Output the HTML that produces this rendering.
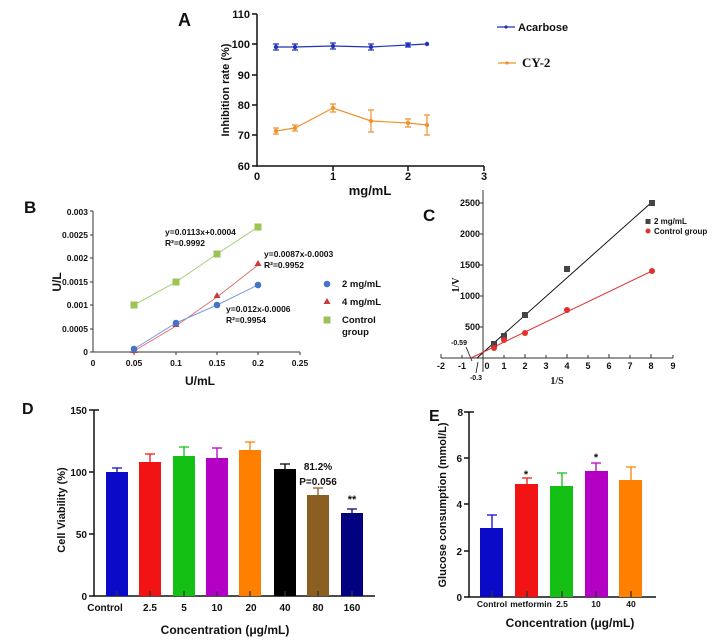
<!DOCTYPE html>
<html><head><meta charset="utf-8"><style>
html,body{margin:0;padding:0;background:#fff}
svg{display:block}
text{font-family:"Liberation Sans",Arial,sans-serif;font-weight:bold;fill:#111}
.s{font-family:"Liberation Serif",serif}
</style></head><body>
<svg width="723" height="640" viewBox="0 0 723 640" xmlns="http://www.w3.org/2000/svg">
<!-- Panel A -->
<text x="178" y="26" font-size="18">A</text>
<g stroke="#111" stroke-width="1.5" fill="none">
<path d="M257 14V166H484"/>
<path d="M252 14H257M252 44H257M252 75H257M252 105H257M252 135H257M252 166H257"/>
<path d="M333 166V171M408 166V171M484 166V171"/>
</g>
<g font-size="11" text-anchor="end">
<text x="250" y="18">110</text><text x="250" y="48">100</text><text x="250" y="79">90</text><text x="250" y="109">80</text><text x="250" y="139">70</text><text x="250" y="170">60</text>
</g>
<g font-size="11" text-anchor="middle">
<text x="257" y="180">0</text><text x="333" y="180">1</text><text x="408" y="180">2</text><text x="484" y="180">3</text>
<text x="370" y="195" font-size="13">mg/mL</text>
</g>
<text transform="translate(229,90) rotate(-90)" font-size="11" text-anchor="middle">Inhibition rate (%)</text>
<g stroke="#2233bb" stroke-width="1.2" fill="#2233bb">
<polyline fill="none" points="276,47 295,47 333,46 371,47 408,45 427,44"/>
<path d="M276 44V50M273 44H279M273 50H279M295 44V50M292 44H298M292 50H298M333 43V49M330 43H336M330 49H336M371 44V50M368 44H374M368 50H374M408 43V47M405 43H411M405 47H411" fill="none"/>
<circle cx="276" cy="47" r="1.6"/><circle cx="295" cy="47" r="1.6"/><circle cx="333" cy="46" r="1.6"/><circle cx="371" cy="47" r="1.6"/><circle cx="408" cy="45" r="1.6"/><circle cx="427" cy="44" r="1.6"/>
</g>
<g stroke="#f0922a" stroke-width="1.2" fill="#f0922a">
<polyline fill="none" points="276,131 295,128 333,108 371,121 408,123 427,125"/>
<path d="M276 128V134M273 128H279M273 134H279M295 125V131M292 125H298M292 131H298M333 104V112M330 104H336M330 112H336M371 110V132M368 110H374M368 132H374M408 119V127M405 119H411M405 127H411M427 115V135M424 115H430M424 135H430" fill="none"/>
<circle cx="276" cy="131" r="1.6"/><circle cx="295" cy="128" r="1.6"/><circle cx="333" cy="108" r="1.6"/><circle cx="371" cy="121" r="1.6"/><circle cx="408" cy="123" r="1.6"/><circle cx="427" cy="125" r="1.6"/>
</g>
<line x1="497" y1="27" x2="515" y2="27" stroke="#2233bb" stroke-width="1.2"/><circle cx="506" cy="27" r="1.6" fill="#2233bb"/>
<text x="518" y="31" font-size="11">Acarbose</text>
<line x1="498" y1="63" x2="516" y2="63" stroke="#f0922a" stroke-width="1.2"/><circle cx="507" cy="63" r="1.6" fill="#f0922a"/>
<text x="522" y="67" font-size="13" class="s">CY-2</text>

<!-- Panel B -->
<text x="24" y="213" font-size="17">B</text>
<g stroke="#333" stroke-width="1" fill="none">
<path d="M93 211V352H300"/>
<path d="M90 211H93M90 235H93M90 258H93M90 282H93M90 305H93M90 329H93M90 352H93"/>
<path d="M134 352V355M176 352V355M217 352V355M258 352V355M300 352V355"/>
</g>
<g font-size="8.5" text-anchor="end">
<text x="88" y="215">0.003</text><text x="88" y="238">0.0025</text><text x="88" y="261">0.002</text><text x="88" y="285">0.0015</text><text x="88" y="308">0.001</text><text x="88" y="332">0.0005</text><text x="88" y="355">0</text>
</g>
<g font-size="8.5" text-anchor="middle">
<text x="93" y="366">0</text><text x="134" y="366">0.05</text><text x="176" y="366">0.1</text><text x="217" y="366">0.15</text><text x="258" y="366">0.2</text><text x="300" y="366">0.25</text>
<text x="200" y="385" font-size="12">U/mL</text>
</g>
<text transform="translate(61,282) rotate(-90)" font-size="12" text-anchor="middle">U/L</text>
<polyline points="134,305 176,282 217,254 258,227" fill="none" stroke="#a8cf78" stroke-width="1"/>
<polyline points="134,351 176,326 217,297 258,265" fill="none" stroke="#e07070" stroke-width="1"/>
<polyline points="134,349 176,323 217,305 258,285" fill="none" stroke="#7a9be0" stroke-width="1"/>
<g fill="#9bc453"><rect x="130.5" y="301.5" width="7" height="7"/><rect x="172.5" y="278.5" width="7" height="7"/><rect x="213.5" y="250.5" width="7" height="7"/><rect x="254.5" y="223.5" width="7" height="7"/></g>
<g fill="#c93a3a"><path d="M134 347l3.5 6h-7z"/><path d="M176 321l3.5 6h-7z"/><path d="M217 292l3.5 6h-7z"/><path d="M258 260l3.5 6h-7z"/></g>
<g fill="#4472c4"><circle cx="134" cy="349" r="3.3"/><circle cx="176" cy="323" r="3.3"/><circle cx="217" cy="305" r="3.3"/><circle cx="258" cy="285" r="3.3"/></g>
<g font-size="8.5">
<text x="165" y="235">y=0.0113x+0.0004</text><text x="165" y="246">R²=0.9992</text>
<text x="264" y="257">y=0.0087x-0.0003</text><text x="264" y="268">R²=0.9952</text>
<text x="226" y="312">y=0.012x-0.0006</text><text x="226" y="323">R²=0.9954</text>
</g>
<circle cx="327" cy="284" r="3.3" fill="#4472c4"/><text x="342" y="287" font-size="9.5">2 mg/mL</text>
<path d="M327 298l3.5 6h-7z" fill="#c93a3a"/><text x="342" y="305" font-size="9.5">4 mg/mL</text>
<rect x="323.5" y="316.5" width="7" height="7" fill="#9bc453"/><text x="342" y="323" font-size="9.5">Control</text><text x="342" y="335" font-size="9.5">group</text>

<!-- Panel C -->
<text x="423" y="221" font-size="17">C</text>
<g stroke="#333" stroke-width="1" fill="none">
<path d="M483 190V372"/>
<path d="M441 358H673"/>
<path d="M483 203H479M483 234H480M483 265H479M483 296H480M483 327H479"/>
<path d="M441 358V354M462 358V355M483 358V354M504 358V355M525 358V354M546 358V355M567 358V354M588 358V355M609 358V354M630 358V355M651 358V354M673 358V355"/>
</g>
<g font-size="9" text-anchor="end">
<text x="480" y="206">2500</text><text x="480" y="237">2000</text><text x="480" y="268">1500</text><text x="480" y="299">1000</text><text x="480" y="330">500</text>
</g>
<g font-size="9" text-anchor="middle">
<text x="441" y="369">-2</text><text x="462" y="369">-1</text><text x="487" y="369">0</text><text x="504" y="369">1</text><text x="525" y="369">2</text><text x="546" y="369">3</text><text x="567" y="369">4</text><text x="588" y="369">5</text><text x="609" y="369">6</text><text x="630" y="369">7</text><text x="651" y="369">8</text><text x="673" y="369">9</text>
</g>
<text x="557" y="384" font-size="10" class="s" text-anchor="middle">1/S</text>
<text transform="translate(459,285) rotate(-90)" font-size="10" class="s" text-anchor="middle">1/V</text>
<line x1="477" y1="358" x2="652" y2="202" stroke="#111" stroke-width="1"/>
<line x1="471" y1="358" x2="652" y2="271" stroke="#e03030" stroke-width="1"/>
<g fill="#444"><rect x="491" y="341" width="6" height="6"/><rect x="501" y="333" width="6" height="6"/><rect x="522" y="312" width="6" height="6"/><rect x="564" y="266" width="6" height="6"/><rect x="649" y="200" width="6" height="6"/></g>
<g fill="#e03030"><circle cx="494" cy="348" r="3"/><circle cx="504" cy="340" r="3"/><circle cx="525" cy="333" r="3"/><circle cx="567" cy="310" r="3"/><circle cx="652" cy="271" r="3"/></g>
<g stroke="#111" stroke-width="0.8"><line x1="472" y1="361" x2="466" y2="347"/><line x1="478" y1="362" x2="476" y2="373"/></g>
<text x="459" y="345" font-size="7" text-anchor="middle">-0.59</text>
<text x="476" y="380" font-size="7" text-anchor="middle">-0.3</text>
<rect x="645.5" y="219" width="5" height="5" fill="#444"/><text x="654" y="224" font-size="8">2 mg/mL</text>
<circle cx="648" cy="231" r="2.5" fill="#e03030"/><text x="654" y="234" font-size="8">Control group</text>

<!-- Panel D -->
<text x="22" y="414" font-size="16">D</text>
<g stroke="#111" stroke-width="1.5" fill="none">
<path d="M94 410V596H375"/>
<path d="M94 410H99"/>
<path d="M89 410H94M89 472H94M89 534H94M89 596H94"/>
</g>
<g font-size="10" text-anchor="end">
<text x="87" y="414">150</text><text x="87" y="476">100</text><text x="87" y="538">50</text><text x="87" y="600">0</text>
</g>
<text transform="translate(65,510) rotate(-90)" font-size="11" text-anchor="middle">Cell Viability (%)</text>
<g>
<rect x="106" y="472" width="22" height="124" fill="#0a0ac8"/>
<rect x="139" y="462" width="22" height="134" fill="#f21414"/>
<rect x="173" y="456" width="22" height="140" fill="#14c014"/>
<rect x="206" y="458" width="22" height="138" fill="#b400c4"/>
<rect x="239" y="450" width="22" height="146" fill="#ff8000"/>
<rect x="274" y="469" width="22" height="127" fill="#000"/>
<rect x="307" y="495" width="22" height="101" fill="#8b5e22"/>
<rect x="341" y="513" width="22" height="83" fill="#020280"/>
</g>
<g stroke-width="1.3" fill="none">
<path d="M117 472V468M112 468H122" stroke="#0a0ac8"/>
<path d="M150 462V454M145 454H155" stroke="#f21414"/>
<path d="M184 456V447M179 447H189" stroke="#14c014"/>
<path d="M217 458V448M212 448H222" stroke="#b400c4"/>
<path d="M250 450V442M245 442H255" stroke="#ff8000"/>
<path d="M285 469V464M280 464H290" stroke="#000"/>
<path d="M318 495V488M313 488H323" stroke="#8b5e22"/>
<path d="M352 513V509M347 509H357" stroke="#020280"/>
<path d="M117 596V591M150 596V591M184 596V591M217 596V591M250 596V591M285 596V591M318 596V591M352 596V591" stroke="#333"/>
</g>
<g font-size="10" text-anchor="middle">
<text x="318" y="470">81.2%</text><text x="318" y="485">P=0.056</text><text x="352" y="503" font-size="11">**</text>
<text x="105" y="611">Control</text><text x="150" y="611">2.5</text><text x="184" y="611">5</text><text x="217" y="611">10</text><text x="251" y="611">20</text><text x="285" y="611">40</text><text x="318" y="611">80</text><text x="352" y="611">160</text>
<text x="225" y="634" font-size="12">Concentration (μg/mL)</text>
</g>

<!-- Panel E -->
<text x="429" y="421" font-size="16">E</text>
<g stroke="#111" stroke-width="1.5" fill="none">
<path d="M469 412V597H656"/>
<path d="M469 412H474"/>
<path d="M464 412H469M464 458H469M464 504H469M464 551H469M464 597H469"/>
</g>
<g font-size="10" text-anchor="end">
<text x="463" y="416">8</text><text x="462" y="462">6</text><text x="462" y="508">4</text><text x="462" y="555">2</text><text x="462" y="601">0</text>
</g>
<text transform="translate(446,505) rotate(-90)" font-size="11" text-anchor="middle">Glucose consumption (mmol/L)</text>
<g>
<rect x="480" y="528" width="23" height="69" fill="#0a0ac8"/>
<rect x="515" y="484" width="23" height="113" fill="#f21414"/>
<rect x="550" y="486" width="23" height="111" fill="#14c014"/>
<rect x="585" y="471" width="23" height="126" fill="#b400c4"/>
<rect x="619" y="480" width="23" height="117" fill="#ff8000"/>
</g>
<g stroke-width="1.3" fill="none">
<path d="M492 528V515M487 515H497" stroke="#0a0ac8"/>
<path d="M527 484V478M522 478H532" stroke="#f21414"/>
<path d="M562 486V473M557 473H567" stroke="#14c014"/>
<path d="M596 471V463M591 463H601" stroke="#b400c4"/>
<path d="M631 480V467M626 467H636" stroke="#ff8000"/>
<path d="M492 597V591M527 597V591M562 597V591M596 597V591M631 597V591" stroke="#333"/>
</g>
<g font-size="11" text-anchor="middle">
<text x="526" y="478">*</text><text x="596" y="461">*</text>
</g>
<g font-size="8.5" text-anchor="middle">
<text x="492" y="607">Control</text><text x="531" y="607">metformin</text><text x="562" y="607">2.5</text><text x="596" y="607">10</text><text x="631" y="607">40</text>
<text x="570" y="627" font-size="12">Concentration (μg/mL)</text>
</g>
</svg>
</body></html>
